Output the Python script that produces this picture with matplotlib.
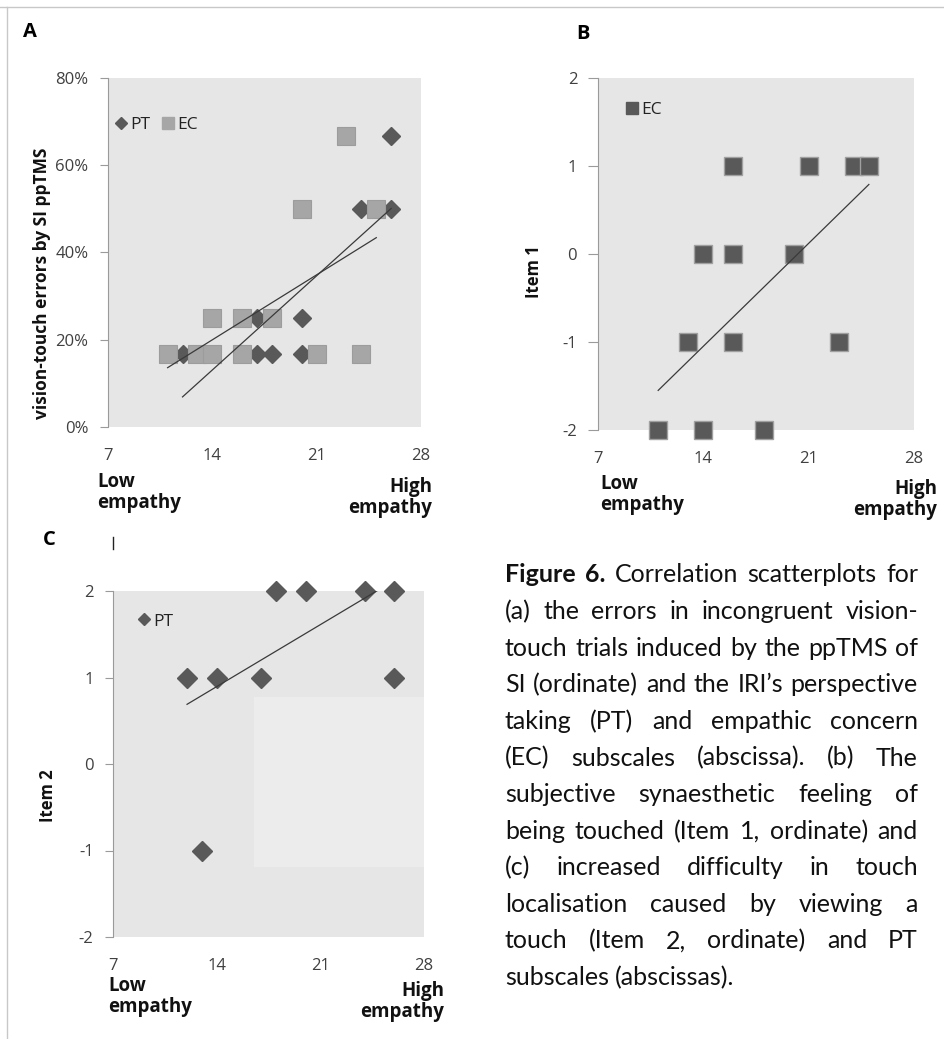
import matplotlib
matplotlib.use('Agg')
import matplotlib.pyplot as plt
from matplotlib.lines import Line2D
from matplotlib.patches import Rectangle

plt.rcParams['font.family'] = ['Open Sans', 'DejaVu Sans']

# panel A: errors vs PT / EC
a_pt_x = [12, 13, 17, 17, 18, 20, 20, 24, 26, 26]
a_pt_y = [16.7, 16.7, 25, 16.7, 16.7, 25, 16.7, 50, 50, 66.7]
a_ec_x = [11, 13, 14, 14, 16, 16, 18, 20, 21, 23, 24, 25]
a_ec_y = [16.7, 16.7, 16.7, 25, 25, 16.7, 25, 50, 16.7, 66.7, 16.7, 50]
a_pt_trend_x = [12, 26]
a_pt_trend_y = [6.9, 50.1]
a_ec_trend_x = [11, 25]
a_ec_trend_y = [13.6, 43.4]

# panel B: item 1 vs EC
b_ec_x = [11, 14, 18, 13, 16, 23, 14, 16, 20, 16, 21, 24, 25]
b_ec_y = [-2, -2, -2, -1, -1, -1, 0, 0, 0, 1, 1, 1, 1]
b_trend_x = [11, 25]
b_trend_y = [-1.55, 0.79]

# panel C: item 2 vs PT
c_pt_x = [12, 14, 13, 17, 18, 20, 24, 26, 26]
c_pt_y = [1, 1, -1, 1, 2, 2, 2, 2, 1]
c_trend_x = [12, 24.9]
c_trend_y = [0.69, 2.01]

x_ticks = [7, 14, 21, 28]
a_yticks = [0, 20, 40, 60, 80]
a_yticklabels = ['0%', '20%', '40%', '60%', '80%']
item_ticks = [-2, -1, 0, 1, 2]

caption = [
    "Figure 6. Correlation scatterplots for",
    "(a) the errors in incongruent vision-",
    "touch trials induced by the ppTMS of",
    "SI (ordinate) and the IRI\u2019s perspective",
    "taking (PT) and empathic concern",
    "(EC) subscales (abscissa). (b) The",
    "subjective synaesthetic feeling of",
    "being touched (Item 1, ordinate) and",
    "(c) increased difficulty in touch",
    "localisation caused by viewing a",
    "touch (Item 2, ordinate) and PT",
    "subscales (abscissas).",
]

W, H = 944, 1039
BG = '#e6e6e6'
DARK = '#595959'
LIGHT = '#a6a6a6'
TXT = '#404040'

fig = plt.figure(figsize=(W / 100, H / 100), dpi=100)


def px_axes(l, t, r, b):
    return fig.add_axes([l / W, 1 - b / H, (r - l) / W, (b - t) / H])


def style(ax, ylim, ticks, labels, tlen):
    ax.set_facecolor(BG)
    ax.set_xlim(7, 28)
    ax.set_ylim(*ylim)
    for s in ['top', 'right', 'bottom']:
        ax.spines[s].set_visible(False)
    ax.spines['left'].set_color('#9a9a9a')
    ax.set_xticks(x_ticks)
    ax.set_yticks(ticks)
    ax.set_yticklabels(labels)
    ax.tick_params(axis='x', length=0, pad=15, labelsize=12, labelcolor=TXT)
    ax.tick_params(axis='y', length=tlen, pad=8, color='#9a9a9a', labelsize=12, labelcolor=TXT)


def fpx(x, y):
    return x / W, 1 - y / H


# ---- A
axA = px_axes(108, 78, 421, 427)
style(axA, (0, 80), a_yticks, a_yticklabels, 6)
axA.plot(a_pt_x, a_pt_y, 'D', ms=8.7, color=DARK, mec=DARK, label='PT', zorder=3)
axA.plot(a_ec_x, a_ec_y, 's', ms=13, color=LIGHT, mec='#9c9c9c', mew=0.8, label='EC', zorder=4)
axA.plot(a_pt_trend_x, a_pt_trend_y, color='#3a3a3a', lw=0.9, zorder=5)
axA.plot(a_ec_trend_x, a_ec_trend_y, color='#3a3a3a', lw=0.9, zorder=5)
hA = [Line2D([], [], marker='D', ls='', ms=6, color=DARK),
      Line2D([], [], marker='s', ls='', ms=8, color=LIGHT)]
axA.legend(hA, ['PT', 'EC'], loc='center left', bbox_to_anchor=(-0.036, 0.865), ncol=2,
           frameon=False, handletextpad=0.05, columnspacing=0.5, handlelength=1.0,
           fontsize=12.5, labelcolor='#222222')
fig.text(*fpx(42, 283), 'vision-touch errors by SI ppTMS', rotation=90, ha='center', va='center',
         fontsize=12.5, fontweight='bold', color='#111111')

# ---- B
axB = px_axes(598, 78, 914, 430)
style(axB, (-2, 2), item_ticks, [str(v) for v in item_ticks], 7)
axB.plot(b_ec_x, b_ec_y, 's', ms=12.5, color=DARK, mec='#a0a0a0', mew=1.0, zorder=3, clip_on=False)
axB.plot(b_trend_x, b_trend_y, color='#3a3a3a', lw=0.9, zorder=5)
hB = [Line2D([], [], marker='s', ls='', ms=8, color=DARK)]
axB.legend(hB, ['EC'], loc='center left', bbox_to_anchor=(0.031, 0.91), frameon=False,
           handletextpad=0.05, handlelength=1.0, fontsize=12.5, labelcolor='#222222')
fig.text(*fpx(534, 272), 'Item 1', rotation=90, ha='center', va='center',
         fontsize=12, fontweight='bold', color='#111111')

# ---- C
axC = px_axes(113, 591, 424, 937)
style(axC, (-2, 2), item_ticks, [str(v) for v in item_ticks], 6)
axC.add_patch(Rectangle((16.5, -1.19), 11.5, 1.96, color='#ececec', lw=0, zorder=1))
axC.plot(c_pt_x, c_pt_y, 'D', ms=10, color=DARK, zorder=3, clip_on=False)
axC.plot(c_trend_x, c_trend_y, color='#3a3a3a', lw=0.9, zorder=5)
hC = [Line2D([], [], marker='D', ls='', ms=6, color=DARK)]
axC.legend(hC, ['PT'], loc='center left', bbox_to_anchor=(0.021, 0.912), frameon=False,
           handletextpad=0.05, handlelength=1.0, fontsize=12.5, labelcolor='#222222')
fig.text(*fpx(48, 796), 'Item 2', rotation=90, ha='center', va='center',
         fontsize=12, fontweight='bold', color='#111111')

# panel letters
for lab, x, y in [('A', 23, 32), ('B', 576, 34), ('C', 43, 540)]:
    fig.text(*fpx(x, y), lab, ha='left', va='center', fontsize=14.5, fontweight='bold')

# low/high empathy labels
for x, y, ha, txt in [(97, 472, 'left', 'Low\nempathy'), (432, 477, 'right', 'High\nempathy'),
                      (600, 474, 'left', 'Low\nempathy'), (937, 479, 'right', 'High\nempathy'),
                      (108, 976, 'left', 'Low\nempathy'), (444, 981, 'right', 'High\nempathy')]:
    fig.text(*fpx(x, y), txt, ha=ha, va='top', ma=ha, fontsize=13.5, fontweight='bold',
             linespacing=1.05, color='#111111')

# page border lines and stray mark
fig.add_artist(Line2D([0, 1], [1 - 7 / H, 1 - 7 / H], color='#c8c8c8', lw=1))
fig.add_artist(Line2D([7 / W, 7 / W], [0, 1 - 7 / H], color='#c8c8c8', lw=1))
fig.add_artist(Line2D([112.5 / W, 112.5 / W], [1 - 537 / H, 1 - 549 / H], color='#222222', lw=1))

# justified caption
renderer = fig.canvas.get_renderer()
x0, x1 = 505, 918
cap_size = 18
cap_font = ['Lato', 'DejaVu Sans']


def width(s, weight='normal'):
    t = fig.text(0, 0, s, fontsize=cap_size, fontweight=weight, family=cap_font)
    w = t.get_window_extent(renderer).width
    t.remove()
    return w


space = width('a a') - width('aa')
for i, line in enumerate(caption):
    y = 1 - (575 + i * 36.6) / H
    words = line.split(' ')
    weights = ['normal'] * len(words)
    if i == 0:
        weights[0] = 'bold'
        weights[1] = 'bold'
    widths = [width(w, wt) for w, wt in zip(words, weights)]
    if i == len(caption) - 1:
        gap = space
    else:
        gap = (x1 - x0 - sum(widths)) / (len(words) - 1)
    x = x0
    for w, wt, wd in zip(words, weights, widths):
        fig.text(x / W, y, w, fontsize=cap_size, fontweight=wt, va='center', ha='left',
                 color='#111111', family=cap_font)
        x += wd + gap

fig.savefig('out.png', dpi=100)
